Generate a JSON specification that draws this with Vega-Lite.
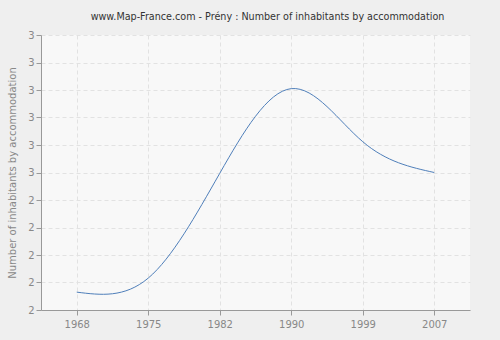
{
  "$schema": "https://vega.github.io/schema/vega-lite/v6.json",
  "width": 429,
  "height": 275,
  "autosize": {"type": "none"},
  "padding": {"left": 41, "top": 35, "right": 30, "bottom": 30},
  "background": "#efefef",
  "title": {
    "text": "www.Map-France.com - Prény : Number of inhabitants by accommodation",
    "font": "DejaVu Sans",
    "fontSize": 9.6,
    "fontWeight": "normal",
    "color": "#333333",
    "anchor": "middle",
    "dx": 12,
    "offset": 8
  },
  "config": {
    "view": {"fill": "#f8f8f8", "stroke": null},
    "axis": {
      "labelFont": "DejaVu Sans",
      "labelFontSize": 10,
      "labelColor": "#888888",
      "titleFont": "DejaVu Sans",
      "titleFontSize": 10,
      "titleColor": "#888888",
      "titleFontWeight": "normal",
      "domainColor": "#999999",
      "tickColor": "#999999",
      "tickSize": 5,
      "gridColor": "#e2e2e2",
      "gridDash": [4, 3],
      "gridWidth": 1
    }
  },
  "data": {
    "values": [
      {"year": "1968", "value": 2.065},
      {"year": "1975", "value": 2.116},
      {"year": "1982", "value": 2.497},
      {"year": "1990", "value": 2.805},
      {"year": "1999", "value": 2.612},
      {"year": "2007", "value": 2.5}
    ]
  },
  "mark": {"type": "line", "interpolate": "natural", "color": "#4f7fba", "strokeWidth": 1},
  "encoding": {
    "x": {
      "field": "year",
      "type": "ordinal",
      "scale": {"type": "point", "padding": 0.5},
      "axis": {"title": null, "labelAngle": 0, "grid": true, "labelPadding": 4}
    },
    "y": {
      "field": "value",
      "type": "quantitative",
      "scale": {"domain": [2, 3], "nice": false, "zero": false},
      "axis": {
        "title": "Number of inhabitants by accommodation",
        "values": [2, 2.1, 2.2, 2.3, 2.4, 2.5, 2.6, 2.7, 2.8, 2.9, 3],
        "format": ".0f",
        "grid": true,
        "titlePadding": 10
      }
    }
  }
}
